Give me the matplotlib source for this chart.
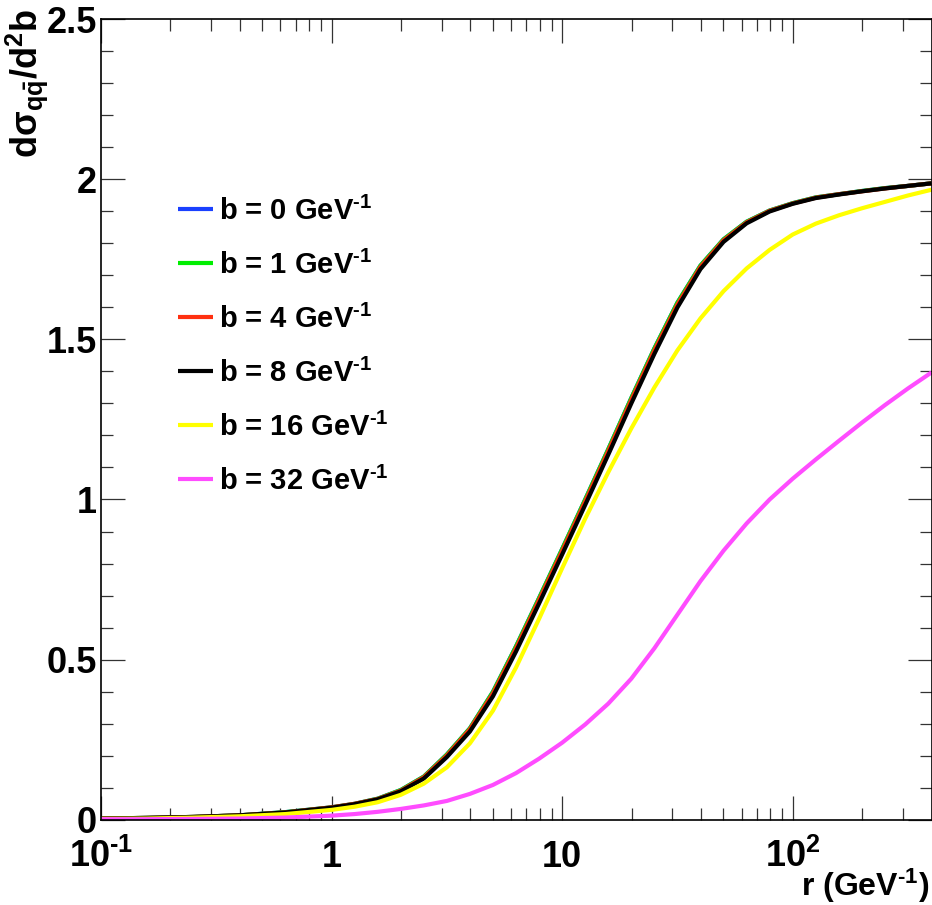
import matplotlib
matplotlib.use("Agg")
import matplotlib.pyplot as plt
from matplotlib.ticker import FixedLocator, LogLocator, MultipleLocator, NullFormatter

plt.rcParams['font.family'] = ['Liberation Sans', 'DejaVu Sans']
plt.rcParams['font.weight'] = 'bold'
plt.rcParams['mathtext.fontset'] = 'custom'
plt.rcParams['mathtext.rm'] = 'Liberation Sans:bold'
plt.rcParams['mathtext.it'] = 'Liberation Sans:bold'
plt.rcParams['mathtext.bf'] = 'Liberation Sans:bold'
plt.rcParams['mathtext.sf'] = 'Liberation Sans:bold'
plt.rcParams['mathtext.default'] = 'rm'

# dipole size r (GeV^-1)
r = [0.1, 0.158, 0.251, 0.398, 0.631, 1.0, 1.259, 1.585, 1.995, 2.512, 3.162,
     3.981, 5.012, 6.31, 7.943, 10.0, 12.59, 15.85, 19.95, 25.12, 31.62, 39.81,
     50.12, 63.1, 79.43, 100.0, 125.9, 158.5, 199.5, 251.2, 316.2, 400.0]

# dsigma/d2b at impact parameter b
sig_b0 = [0.003, 0.005, 0.008, 0.013, 0.023, 0.038, 0.049, 0.065, 0.092, 0.134,
          0.203, 0.285, 0.399, 0.541, 0.692, 0.845, 1.000, 1.157, 1.317, 1.472,
          1.615, 1.731, 1.813, 1.868, 1.903, 1.926, 1.944, 1.954, 1.964, 1.973,
          1.980, 1.988]
sig_b1 = [0.003, 0.005, 0.008, 0.013, 0.023, 0.038, 0.049, 0.065, 0.092, 0.134,
          0.203, 0.285, 0.399, 0.541, 0.692, 0.845, 1.000, 1.157, 1.317, 1.472,
          1.615, 1.731, 1.813, 1.868, 1.903, 1.926, 1.944, 1.954, 1.964, 1.973,
          1.980, 1.988]
sig_b4 = [0.003, 0.005, 0.008, 0.013, 0.022, 0.038, 0.049, 0.064, 0.090, 0.132,
          0.200, 0.282, 0.394, 0.535, 0.686, 0.839, 0.994, 1.151, 1.311, 1.466,
          1.609, 1.727, 1.810, 1.866, 1.902, 1.925, 1.943, 1.954, 1.963, 1.972,
          1.980, 1.988]
sig_b8 = [0.003, 0.005, 0.008, 0.013, 0.022, 0.037, 0.048, 0.063, 0.088, 0.128,
          0.195, 0.275, 0.385, 0.525, 0.675, 0.828, 0.983, 1.140, 1.300, 1.455,
          1.600, 1.720, 1.805, 1.863, 1.900, 1.924, 1.942, 1.953, 1.963, 1.972,
          1.980, 1.988]
sig_b16 = [0.002, 0.003, 0.006, 0.010, 0.017, 0.030, 0.040, 0.054, 0.077, 0.112,
           0.163, 0.238, 0.340, 0.475, 0.627, 0.785, 0.940, 1.085, 1.222, 1.350,
           1.466, 1.566, 1.651, 1.722, 1.780, 1.828, 1.862, 1.888, 1.910, 1.930,
           1.950, 1.968]
sig_b32 = [0.001, 0.001, 0.002, 0.003, 0.006, 0.012, 0.017, 0.024, 0.033, 0.044,
           0.058, 0.080, 0.108, 0.145, 0.190, 0.240, 0.297, 0.362, 0.440, 0.535,
           0.640, 0.745, 0.840, 0.925, 1.000, 1.065, 1.125, 1.183, 1.240, 1.295,
           1.347, 1.397]

b_values = [0, 1, 4, 8, 16, 32]
curves = [sig_b0, sig_b1, sig_b4, sig_b8, sig_b16, sig_b32]
colors = ['#1a40ff', '#00ee00', '#ff3010', '#000000', '#ffff00', '#ff4cff']

fig = plt.figure(figsize=(9.32, 9.05), dpi=100)
ax = fig.add_axes([101 / 932, 85.5 / 905, 830.5 / 932, 800 / 905])

for b, sig, c in zip(b_values, curves, colors):
    ax.plot(r, sig, color=c, lw=3.0, solid_capstyle='butt',
            label=r'b = %d GeV$^{\text{-1}}$' % b)

ax.set_xscale('log')
ax.set_xlim(0.1, 400)
ax.set_ylim(0, 2.5)

# frame with ticks on all four sides, pointing inwards
for s in ax.spines.values():
    s.set_linewidth(1.2)
ax.tick_params(which='both', direction='in', top=True, right=True,
               color='#333333', width=0.9)
ax.tick_params(which='major', length=17)
ax.tick_params(which='minor', length=8.5)

ax.xaxis.set_major_locator(FixedLocator([0.1, 1, 10, 100]))
ax.xaxis.set_minor_locator(LogLocator(base=10, subs=range(2, 10), numticks=20))
ax.xaxis.set_minor_formatter(NullFormatter())
ax.set_xticklabels([r'10$^{\text{-1}}$', '1', '10', '10$^{2}$'], fontsize=26)
for lbl in ax.get_xticklabels():
    lbl.set_va('baseline')
ax.tick_params(axis='x', which='major', pad=34)

ax.set_yticks([0, 0.5, 1, 1.5, 2, 2.5])
ax.yaxis.set_minor_locator(MultipleLocator(0.1))
ax.set_yticklabels(['0', '0.5', '1', '1.5', '2', '2.5'], fontsize=26)
ax.tick_params(axis='y', which='major', pad=3)

fig.text(27 / 932, 1 - 9 / 905, r'$d\sigma_{q\bar{q}}/d^{2}b$', rotation=90,
         ha='center', va='top', fontsize=26)
fig.text(929 / 932, 1 - 896 / 905, r'r (GeV$^{\text{-1}}$)', ha='right',
         va='baseline', fontsize=23)

ax.legend(loc='upper left', bbox_to_anchor=(77 / 830.5, 623 / 800),
          frameon=False, fontsize=21, handlelength=1.2, handletextpad=0.2,
          labelspacing=0.85, borderpad=0, borderaxespad=0)

fig.savefig('out.png', dpi=100)
